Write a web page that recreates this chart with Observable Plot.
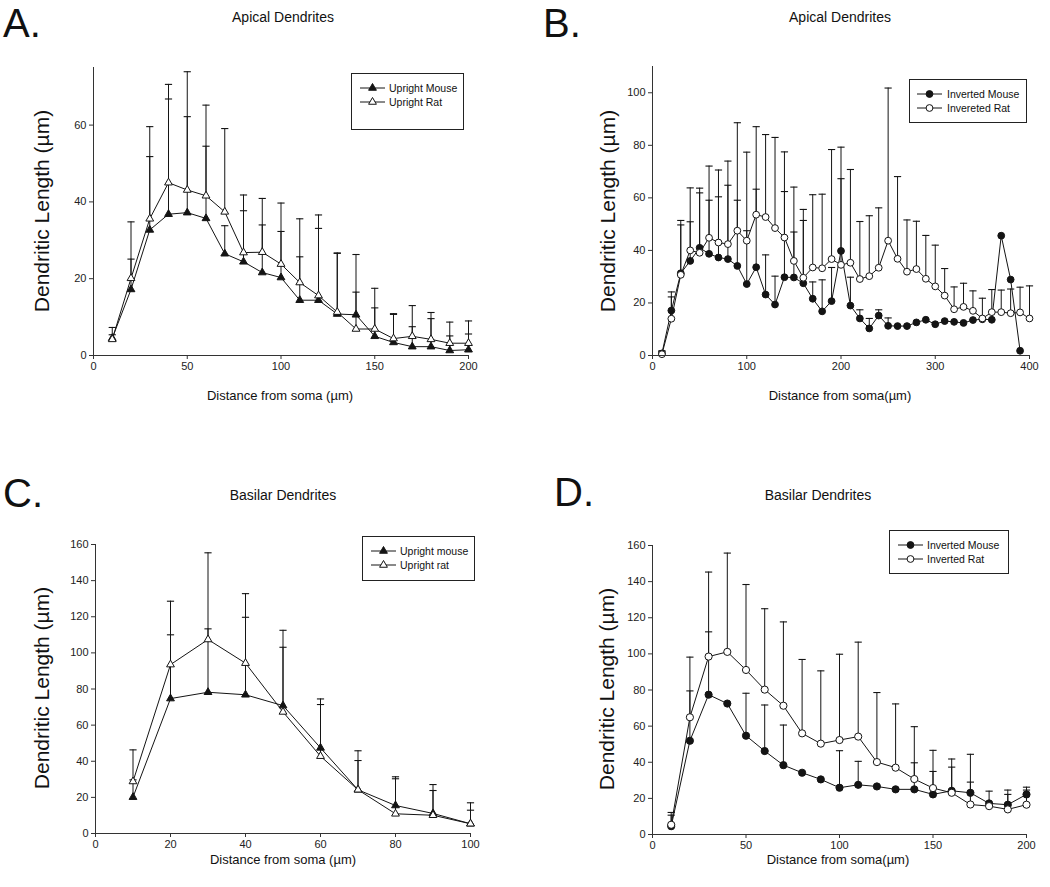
<!DOCTYPE html>
<html><head><meta charset="utf-8">
<script src="https://cdn.jsdelivr.net/npm/d3@7"></script>
<script src="https://cdn.jsdelivr.net/npm/@observablehq/plot@0.6"></script>
<style>
body{margin:0;background:#fff;}
#root{position:relative;width:1050px;height:887px;background:#fff;font-family:"Liberation Sans",Arial,sans-serif;color:#111;overflow:hidden}
.abs{position:absolute}
.letter{font-size:40px;line-height:normal}
.title{font-size:14px;transform:translate(-50%,-50%);white-space:nowrap}
.ylab{font-size:21px;transform:translate(-50%,-50%) rotate(-90deg);white-space:nowrap}
.xlab{font-size:13px;transform:translate(-50%,-50%);white-space:nowrap}
.legend{border:1px solid #222;background:#fff;box-sizing:border-box}
.legend .t{position:absolute;font-size:10.5px;white-space:nowrap;transform:translateY(-50%)}
.legend svg{position:absolute}
</style>
</head><body><div id="root"></div>
<script>
// ---------- DATA ----------
// Panel A: Apical dendrites, upright neurons
const distA = [10,20,30,40,50,60,70,80,90,100,110,120,130,140,150,160,170,180,190,200];
const uprightMouseA = [4.5,17.2,32.7,36.8,37.2,35.7,26.5,24.4,21.6,20.3,14.4,14.4,10.8,10.6,5.0,3.4,2.3,2.3,1.3,1.5];
const uprightMouseA_upper = [5.4,25.1,51.8,66.8,62.2,54.5,33.8,37.7,34.0,32.3,25.7,33.1,26.7,26.3,12.4,10.7,7.5,9.6,5.1,5.6];
const uprightRatA = [4.2,20.1,35.6,45.0,43.1,41.6,37.4,26.8,26.9,23.8,19.0,15.6,11.3,6.9,6.9,4.4,5.0,4.2,3.2,3.2];
const uprightRatA_upper = [7.3,34.8,59.6,70.6,73.9,65.2,59.1,41.8,40.9,39.7,35.6,36.6,26.6,16.5,17.5,10.9,13.0,11.2,8.7,9.0];

// Panel B: Apical dendrites, inverted neurons
const distB = [10,20,30,40,50,60,70,80,90,100,110,120,130,140,150,160,170,180,190,200,
               210,220,230,240,250,260,270,280,290,300,310,320,330,340,350,360,370,380,390,400];
const invertedMouseB = [0.8,17.1,31.3,36.0,41.0,38.7,37.3,36.7,34.1,27.2,33.6,23.2,19.4,29.8,29.7,27.5,21.6,16.8,20.7,39.8,
                        19.0,14.1,10.3,15.2,11.3,11.2,11.2,12.6,13.6,11.9,13.1,12.8,12.4,13.5,13.8,13.6,45.6,28.9,1.8,null];
const invertedMouseB_upper = [1.5,22.3,49.7,50.9,61.9,59.1,60.4,64.8,59.1,47.5,63.3,38.3,30.2,62.4,47.0,51.4,28.0,28.8,33.5,67.3,
                              29.8,17.4,14.1,17.4,14.3,null,null,null,null,null,null,null,null,null,null,null,null,null,null,null];
const invertedRatB = [0.5,14.0,30.7,40.0,39.1,44.8,43.0,42.4,47.5,43.7,53.6,52.7,48.5,44.9,36.0,29.6,33.5,33.2,36.7,34.5,
                      35.3,29.1,30.2,33.4,43.7,36.8,31.9,32.9,29.2,26.3,22.8,17.6,18.5,17.0,14.1,16.5,16.5,16.1,16.4,14.1];
const invertedRatB_upper = [1.8,24.2,51.4,63.8,63.7,72.1,70.6,74.0,88.6,77.4,87.1,84.1,83.0,77.5,64.1,55.6,61.2,61.4,78.4,79.3,
                            70.8,51.0,53.2,56.2,101.8,68.1,51.6,51.1,45.7,42.0,33.1,26.1,27.5,24.6,21.8,25.1,24.9,25.3,26.0,26.5];

// Panel C: Basilar dendrites, upright neurons
const distC = [10,20,30,40,50,60,70,80,90,100];
const uprightMouseC = [20.1,74.7,78.2,76.8,70.8,47.4,24.2,15.5,11.1,5.4];
const uprightMouseC_upper = [29.7,110.0,113.3,119.7,103.1,74.5,40.4,31.4,27.1,12.9];
const uprightRatC = [28.8,93.5,107.4,94.3,67.3,42.8,24.2,10.9,10.1,5.4];
const uprightRatC_upper = [46.3,128.6,155.4,132.8,112.5,71.4,45.8,30.3,23.8,17.0];

// Panel D: Basilar dendrites, inverted neurons
const distD = [10,20,30,40,50,60,70,80,90,100,110,120,130,140,150,160,170,180,190,200];
const invertedMouseD = [4.6,51.9,77.4,72.5,54.7,46.2,38.4,34.2,30.5,25.9,27.5,26.6,25.0,25.0,22.2,24.2,23.1,17.2,16.5,22.2];
const invertedMouseD_upper = [10.7,79.5,112.2,null,78.2,71.7,60.6,null,null,46.4,40.5,null,null,39.7,34.9,41.8,44.4,24.0,24.6,26.2];
const invertedRatD = [5.4,64.9,98.5,101.1,91.1,80.2,71.3,56.0,50.3,52.3,54.2,40.1,37.0,30.7,25.7,23.1,16.6,15.7,13.9,16.5];
const invertedRatD_upper = [12.2,98.2,145.3,155.8,138.4,125.0,117.7,96.9,90.6,99.8,106.5,78.6,72.3,59.7,46.6,37.3,29.0,null,22.2,24.6];

// Tick values
const ticksA_x = [0,50,100,150,200], ticksA_y = [0,20,40,60];
const ticksB_x = [0,100,200,300,400], ticksB_y = [0,20,40,60,80,100];
const ticksC_x = [0,20,40,60,80,100], ticksC_y = [0,20,40,60,80,100,120,140,160];
const ticksD_x = [0,50,100,150,200], ticksD_y = [0,20,40,60,80,100,120,140,160];

// ---------- DRAWING ----------
const root = document.getElementById("root");
const INK = "#141414";
const capSymbol = {draw(ctx, size){ const w = Math.sqrt(size/Math.PI); ctx.moveTo(-w,0); ctx.lineTo(w,0); }};

function rows(xs, ys, ups){
  return xs.map((x,i)=>({x, y: ys[i], up: ups[i]})).filter(d=>d.y!=null);
}

function panel(cfg){
  const {left, top, width, height, margin, xDomain, yDomain, xTicks, yTicks, series, r} = cfg;
  const marks = [];
  for (const s of series) {
    const data = rows(s.xs, s.ys, s.ups).filter(d=>d.up!=null);
    marks.push(Plot.ruleX(data, {x:"x", y1:"y", y2:"up", stroke:INK, strokeWidth:1}));
    marks.push(Plot.dot(data, {x:"x", y:"up", symbol:capSymbol, r:3.6, stroke:INK, strokeWidth:1.1, fill:"none"}));
  }
  for (const s of series) {
    marks.push(Plot.line(rows(s.xs, s.ys, s.ups), {x:"x", y:"y", stroke:INK, strokeWidth:1}));
  }
  for (const s of series) {
    marks.push(Plot.dot(rows(s.xs, s.ys, s.ups), {x:"x", y:"y", symbol:s.symbol, r:r, fill:s.fill, stroke:INK, strokeWidth:1}));
  }
  marks.push(Plot.ruleX([xDomain[0]], {stroke:"#333"}));
  marks.push(Plot.ruleY([yDomain[0]], {stroke:"#333"}));
  marks.push(Plot.axisX({ticks:xTicks, tickSize:4, tickPadding:3, label:null, stroke:"#333", fill:"#222"}));
  marks.push(Plot.axisY({ticks:yTicks, tickSize:4, tickPadding:3, label:null, stroke:"#333", fill:"#222"}));
  const svg = Plot.plot({
    width, height,
    marginLeft: margin[0], marginTop: margin[1], marginRight: margin[2], marginBottom: margin[3],
    x: {domain: xDomain, axis: null},
    y: {domain: yDomain, axis: null},
    style: {fontFamily: '"Liberation Sans", Arial, sans-serif', fontSize: "11px", background: "white", overflow: "visible"},
    marks
  });
  const wrap = document.createElement("div");
  wrap.className = "abs";
  wrap.style.left = left + "px"; wrap.style.top = top + "px";
  wrap.appendChild(svg);
  root.appendChild(wrap);
}

function text(cls, str, x, y){
  const d = document.createElement("div");
  d.className = "abs " + cls;
  d.textContent = str;
  d.style.left = x + "px"; d.style.top = y + "px";
  root.appendChild(d);
}

function legend(box, entries, r){
  const [x, y, w, h] = box;
  const d = document.createElement("div");
  d.className = "abs legend";
  Object.assign(d.style, {left: x+"px", top: y+"px", width: w+"px", height: h+"px"});
  for (const e of entries) {
    const s = d3.create("svg").attr("width", 28).attr("height", 12)
      .style("left", e.sx + "px").style("top", (e.cy - 6) + "px");
    s.append("line").attr("x1", 1).attr("x2", 26).attr("y1", 6).attr("y2", 6).attr("stroke", INK);
    s.append("path").attr("transform", "translate(13.5,6)")
      .attr("d", d3.symbol(e.symbol === "triangle" ? d3.symbolTriangle : d3.symbolCircle, r*r*Math.PI)())
      .attr("fill", e.fill).attr("stroke", INK);
    d.appendChild(s.node());
    const t = document.createElement("div");
    t.className = "t"; t.textContent = e.label;
    t.style.left = e.tx + "px"; t.style.top = e.cy + "px";
    d.appendChild(t);
  }
  root.appendChild(d);
}

// Panel A
panel({left:0, top:0, width:520, height:420, margin:[93,67,52,65],
  xDomain:[0,200], yDomain:[0,75], xTicks:ticksA_x, yTicks:ticksA_y, r:2.9,
  series:[
    {xs:distA, ys:uprightMouseA, ups:uprightMouseA_upper, symbol:"triangle", fill:INK},
    {xs:distA, ys:uprightRatA, ups:uprightRatA_upper, symbol:"triangle", fill:"white"}
  ]});
// Panel B
panel({left:530, top:0, width:520, height:420, margin:[122,66,21,65],
  xDomain:[0,400], yDomain:[0,110], xTicks:ticksB_x, yTicks:ticksB_y, r:3.4,
  series:[
    {xs:distB, ys:invertedMouseB, ups:invertedMouseB_upper, symbol:"circle", fill:INK},
    {xs:distB, ys:invertedRatB, ups:invertedRatB_upper, symbol:"circle", fill:"white"}
  ]});
// Panel C
panel({left:0, top:440, width:520, height:440, margin:[95,104,50,47],
  xDomain:[0,100], yDomain:[0,160], xTicks:ticksC_x, yTicks:ticksC_y, r:2.9,
  series:[
    {xs:distC, ys:uprightMouseC, ups:uprightMouseC_upper, symbol:"triangle", fill:INK},
    {xs:distC, ys:uprightRatC, ups:uprightRatC_upper, symbol:"triangle", fill:"white"}
  ]});
// Panel D
panel({left:530, top:440, width:520, height:440, margin:[122,105,24,46],
  xDomain:[0,200], yDomain:[0,160], xTicks:ticksD_x, yTicks:ticksD_y, r:3.6,
  series:[
    {xs:distD, ys:invertedMouseD, ups:invertedMouseD_upper, symbol:"circle", fill:INK},
    {xs:distD, ys:invertedRatD, ups:invertedRatD_upper, symbol:"circle", fill:"white"}
  ]});

// Panel letters and titles
text("letter", "A.", 3, 1);
text("letter", "B.", 543, 1);
text("letter", "C.", 3, 471);
text("letter", "D.", 554, 470);
text("title", "Apical Dendrites", 283, 17);
text("title", "Apical Dendrites", 840, 17);
text("title", "Basilar Dendrites", 283, 495);
text("title", "Basilar Dendrites", 818, 495);
text("ylab", "Dendritic Length (\u00b5m)", 42, 211);
text("ylab", "Dendritic Length (\u00b5m)", 608, 211);
text("ylab", "Dendritic Length (\u00b5m)", 42, 688);
text("ylab", "Dendritic Length (\u00b5m)", 607, 689);
text("xlab", "Distance from soma (\u00b5m)", 280, 395);
text("xlab", "Distance from soma(\u00b5m)", 840, 395);
text("xlab", "Distance from soma (\u00b5m)", 283, 859);
text("xlab", "Distance from soma(\u00b5m)", 838, 859);

// Legends
legend([351,73,113,57], [
  {label:"Upright Mouse", symbol:"triangle", fill:INK, sx:7, tx:37, cy:14},
  {label:"Upright Rat", symbol:"triangle", fill:"white", sx:7, tx:37, cy:28}
], 2.9);
legend([909,79,118,44], [
  {label:"Inverted Mouse", symbol:"circle", fill:INK, sx:6, tx:37, cy:14},
  {label:"Invereted Rat", symbol:"circle", fill:"white", sx:6, tx:37, cy:28}
], 3.4);
legend([362,536,113,45], [
  {label:"Upright mouse", symbol:"triangle", fill:INK, sx:7, tx:37, cy:14},
  {label:"Upright rat", symbol:"triangle", fill:"white", sx:7, tx:37, cy:28}
], 2.9);
legend([889,530,120,44], [
  {label:"Inverted Mouse", symbol:"circle", fill:INK, sx:7, tx:37, cy:14},
  {label:"Inverted Rat", symbol:"circle", fill:"white", sx:7, tx:37, cy:28}
], 3.4);
</script>
</body></html>
